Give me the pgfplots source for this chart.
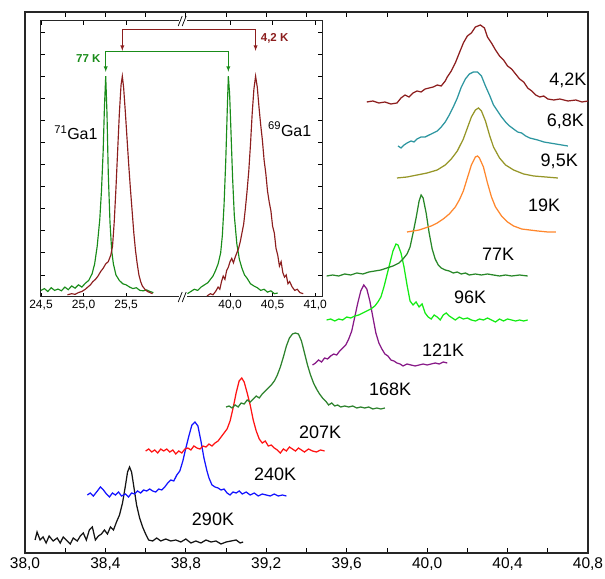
\documentclass[border=0pt]{standalone}
\usepackage{pgfplots}
\pgfplotsset{compat=1.18}
\usepackage{fontspec}
\setmainfont{Liberation Sans}
\definecolor{cA}{RGB}{140,30,30}
\definecolor{cB}{RGB}{45,150,160}
\definecolor{cC}{RGB}{150,150,40}
\definecolor{cD}{RGB}{255,135,45}
\definecolor{cE}{RGB}{40,135,40}
\definecolor{cF}{RGB}{20,235,20}
\definecolor{cG}{RGB}{135,25,135}
\definecolor{cH}{RGB}{45,130,45}
\definecolor{cI}{RGB}{255,20,20}
\definecolor{cJ}{RGB}{20,20,255}
\definecolor{cK}{RGB}{20,20,20}
\definecolor{gin}{RGB}{25,140,25}
\definecolor{rin}{RGB}{140,30,30}
\begin{document}
\begin{tikzpicture}
\begin{axis}[name=main, at={(0,0)}, anchor=south west, scale only axis,
  width=563bp, height=541bp, xmin=38, xmax=40.8, ymin=0, ymax=541,
  xtick={38,38.4,38.8,39.2,39.6,40,40.4,40.8},
  xticklabels={{38,0},{38,4},{38,8},{39,2},{39,6},{40,0},{40,4},{40,8}},
  minor xtick={38.2,38.6,39.0,39.4,39.8,40.2,40.6},
  ytick=\empty, tick align=inside,
  major tick length=5bp, minor tick length=5bp,
  tick style={black, line width=0.8bp},
  axis line style={black!85, line width=1.1bp},
  /pgf/number format/assume math mode=true,
  xticklabel style={font=\fontsize{15.5bp}{18bp}\selectfont, yshift=-1bp},
  every axis plot/.append style={line width=1.25bp, mark=none},
  clip=false]
% 290K
\addplot[cK] coordinates {(38.05,13)(38.06,21)(38.075,13)(38.09,16)(38.105,10)(38.12,17)(38.14,12)(38.16,15)(38.175,10)(38.19,16)(38.21,12)(38.225,9)(38.24,15)(38.26,12)(38.275,17)(38.29,20)(38.305,13)(38.32,23)(38.335,26)(38.35,13)(38.365,17)(38.38,19)(38.395,23)(38.41,19)(38.425,26)(38.44,23)(38.455,31)(38.47,38)(38.485,50)(38.50,68)(38.51,81)(38.52,86)(38.53,81)(38.54,68)(38.555,48)(38.57,35)(38.585,26)(38.60,19)(38.615,13)(38.635,12)(38.655,15)(38.675,12)(38.70,14)(38.725,12)(38.75,13)(38.775,11)(38.80,14)(38.825,10)(38.85,12)(38.875,10)(38.90,13)(38.925,11)(38.95,12)(38.975,9)(39.0,11)(39.025,12)(39.05,13)(39.07,10)(39.085,11)};
% 240K
\addplot[cJ] coordinates {(38.31,58)(38.325,60)(38.34,57)(38.36,62)(38.375,66)(38.39,63)(38.405,59)(38.42,56)(38.435,60)(38.45,58)(38.465,61)(38.48,57)(38.50,59)(38.515,56)(38.53,60)(38.545,59)(38.56,62)(38.575,60)(38.59,63)(38.605,62)(38.62,64)(38.635,62)(38.65,61)(38.665,64)(38.68,63)(38.695,66)(38.71,70)(38.725,73)(38.74,72)(38.755,78)(38.77,82)(38.785,92)(38.80,105)(38.815,117)(38.83,128)(38.845,131)(38.86,127)(38.875,112)(38.89,95)(38.905,82)(38.915,75)(38.93,68)(38.945,66)(38.96,65)(38.975,63)(38.99,64)(39.005,60)(39.02,58)(39.035,61)(39.05,60)(39.065,62)(39.08,59)(39.10,61)(39.12,58)(39.14,60)(39.16,57)(39.18,59)(39.20,58)(39.22,57)(39.24,59)(39.26,57)(39.28,58)(39.30,57)};
% 207K
\addplot[cI] coordinates {(38.60,102)(38.615,104)(38.63,101)(38.645,103)(38.66,100)(38.675,104)(38.69,102)(38.705,104)(38.72,101)(38.735,103)(38.75,99)(38.765,102)(38.78,100)(38.795,104)(38.81,105)(38.825,103)(38.84,107)(38.855,105)(38.87,104)(38.885,107)(38.90,106)(38.915,109)(38.93,107)(38.945,110)(38.96,112)(38.975,116)(38.99,120)(39.005,124)(39.02,132)(39.035,145)(39.05,160)(39.065,172)(39.078,175)(39.09,171)(39.105,160)(39.12,148)(39.135,133)(39.15,122)(39.165,114)(39.18,110)(39.195,112)(39.21,107)(39.225,108)(39.24,105)(39.255,103)(39.27,100)(39.285,104)(39.30,102)(39.315,106)(39.33,104)(39.345,102)(39.36,105)(39.375,103)(39.39,101)(39.41,104)(39.43,102)(39.45,101)(39.47,103)(39.49,102)};
% 168K
\addplot[cH] coordinates {(39.00,146)(39.015,147)(39.03,145)(39.045,148)(39.06,146)(39.075,150)(39.09,149)(39.105,153)(39.12,151)(39.135,154)(39.15,157)(39.165,155)(39.18,159)(39.195,162)(39.21,165)(39.225,168)(39.24,172)(39.255,178)(39.27,186)(39.285,196)(39.30,207)(39.315,215)(39.33,219)(39.345,220)(39.36,219)(39.375,212)(39.39,200)(39.405,188)(39.42,178)(39.435,170)(39.45,164)(39.465,159)(39.48,155)(39.495,152)(39.51,148)(39.525,150)(39.54,147)(39.555,148)(39.57,146)(39.59,147)(39.61,146)(39.63,147)(39.65,145)(39.67,146)(39.69,145)(39.71,146)(39.73,144)(39.75,145)(39.77,144)(39.79,145)};
% 121K
\addplot[cG] coordinates {(39.43,188)(39.445,190)(39.46,193)(39.475,191)(39.49,195)(39.505,194)(39.52,197)(39.535,199)(39.55,198)(39.565,202)(39.58,205)(39.595,208)(39.61,214)(39.625,222)(39.64,236)(39.655,250)(39.67,262)(39.685,268)(39.70,264)(39.715,252)(39.73,236)(39.745,220)(39.76,210)(39.775,204)(39.79,199)(39.805,197)(39.82,193)(39.835,192)(39.85,190)(39.865,189)(39.88,187)(39.90,189)(39.92,188)(39.94,187)(39.96,188)(39.98,189)(40.0,188)(40.02,189)(40.04,190)(40.06,189)(40.08,191)(40.10,190)};
% 96K
\addplot[cF] coordinates {(39.50,233)(39.52,234)(39.54,232)(39.56,234)(39.58,233)(39.60,236)(39.62,235)(39.64,237)(39.66,238)(39.68,240)(39.70,242)(39.72,244)(39.74,247)(39.755,251)(39.77,256)(39.785,266)(39.80,278)(39.815,290)(39.83,302)(39.845,309)(39.855,308)(39.87,300)(39.885,286)(39.90,268)(39.915,252)(39.93,248)(39.945,251)(39.96,246)(39.975,249)(39.99,240)(40.005,236)(40.02,234)(40.035,238)(40.05,236)(40.065,233)(40.08,238)(40.095,240)(40.11,237)(40.125,235)(40.14,233)(40.16,236)(40.18,234)(40.20,235)(40.22,233)(40.24,232)(40.26,234)(40.28,233)(40.30,235)(40.32,233)(40.34,231)(40.36,234)(40.38,232)(40.40,234)(40.42,233)(40.44,232)(40.46,233)(40.48,232)(40.50,233)};
% 77K
\addplot[cE] coordinates {(39.50,277)(39.53,278)(39.56,277)(39.59,279)(39.62,278)(39.65,280)(39.68,279)(39.71,281)(39.74,282)(39.77,283)(39.80,285)(39.83,287)(39.86,290)(39.88,294)(39.90,299)(39.915,306)(39.93,320)(39.945,335)(39.96,352)(39.97,358)(39.98,355)(39.995,340)(40.01,320)(40.025,304)(40.04,294)(40.055,288)(40.07,285)(40.09,283)(40.11,282)(40.13,280)(40.15,281)(40.17,279)(40.19,280)(40.21,278)(40.24,279)(40.27,278)(40.30,279)(40.33,278)(40.36,277)(40.39,278)(40.42,277)(40.46,278)(40.50,277)};
% 19K
\addplot[cD] coordinates {(39.90,321)(39.93,322)(39.96,323)(39.99,325)(40.02,327)(40.05,330)(40.08,334)(40.11,339)(40.14,346)(40.16,353)(40.18,362)(40.20,375)(40.22,388)(40.24,396)(40.25,397)(40.26,395)(40.28,386)(40.30,370)(40.32,356)(40.34,346)(40.37,337)(40.40,331)(40.43,327)(40.47,324)(40.51,323)(40.55,322)(40.60,321)(40.64,321)};
% 9.5K
\addplot[cC] coordinates {(39.85,375)(39.90,376)(39.95,378)(40.00,380)(40.05,383)(40.09,388)(40.12,394)(40.15,402)(40.18,414)(40.20,425)(40.22,436)(40.24,443)(40.255,445)(40.27,442)(40.29,432)(40.31,418)(40.33,406)(40.36,395)(40.39,388)(40.43,383)(40.48,379)(40.53,377)(40.59,376)(40.65,375)};
% 6.8K
\addplot[cB] coordinates {(39.855,407)(39.87,405)(39.885,408)(39.90,410)(39.92,412)(39.935,411)(39.95,414)(39.97,416)(39.99,416)(40.01,418)(40.03,420)(40.05,422)(40.07,426)(40.09,431)(40.11,438)(40.13,446)(40.15,455)(40.17,466)(40.19,474)(40.21,479)(40.23,481)(40.25,481)(40.27,477)(40.29,467)(40.31,458)(40.33,448)(40.35,442)(40.37,436)(40.39,431)(40.41,427)(40.43,424)(40.45,421)(40.47,420)(40.49,417)(40.51,415)(40.53,414)(40.55,413)(40.58,411)(40.61,410)(40.64,409)(40.67,408)(40.70,407)};
% 4.2K
\addplot[cA] coordinates {(39.70,451)(39.73,452)(39.76,450)(39.79,451)(39.82,449)(39.85,450)(39.87,455)(39.89,458)(39.91,456)(39.93,460)(39.95,462)(39.97,461)(39.99,464)(40.01,465)(40.03,466)(40.05,468)(40.07,467)(40.09,472)(40.10,476)(40.12,482)(40.14,490)(40.16,500)(40.18,510)(40.20,517)(40.22,520)(40.24,526)(40.265,528)(40.285,525)(40.30,516)(40.32,510)(40.34,503)(40.36,497)(40.38,493)(40.40,487)(40.42,484)(40.44,479)(40.46,474)(40.48,471)(40.50,465)(40.52,462)(40.54,458)(40.56,456)(40.58,457)(40.60,454)(40.63,453)(40.66,454)(40.70,452)(40.74,453)(40.77,451)(40.80,452)};
\begin{scope}[every node/.style={font=\fontsize{18bp}{21bp}\selectfont, inner sep=0pt}]
\node at (axis cs:38.935,34) {290K};
\node at (axis cs:39.244,79) {240K};
\node at (axis cs:39.468,121) {207K};
\node at (axis cs:39.816,164) {168K};
\node at (axis cs:40.08,203) {121K};
\node at (axis cs:40.214,256) {96K};
\node at (axis cs:40.353,299) {77K};
\node at (axis cs:40.582,348) {19K};
\node at (axis cs:40.657,392) {9,5K};
\node at (axis cs:40.687,432) {6,8K};
\node at (axis cs:40.70,473) {4,2K};
\end{scope}
\end{axis}
\begin{axis}[name=inset, at={(16bp,532bp)}, anchor=north west, scale only axis,
  width=281bp, height=276bp, xmin=0, xmax=3.3, ymin=0, ymax=12.5,
  axis background/.style={fill=white},
  xtick={0,0.5,1,2.22,2.72,3.22},
  xticklabels={{24,5},{25,0},{25,5},{40,0},{40,5},{41,0}},
  ytick={1,2,3,4,5,6,7,8,9,10,11,12}, yticklabel=\empty,
  tick align=inside, major tick length=4bp,
  tick style={black, line width=0.7bp},
  axis line style={black!85, line width=1bp},
  /pgf/number format/assume math mode=true,
  xticklabel style={font=\fontsize{12bp}{14bp}\selectfont},
  every axis plot/.append style={line width=1.15bp, mark=none},
  clip=false]
\addplot[gin] coordinates {(0.00,0.30)(0.04,0.38)(0.08,0.25)(0.12,0.42)(0.16,0.30)(0.20,0.36)(0.24,0.28)(0.28,0.45)(0.32,0.33)(0.36,0.50)(0.40,0.40)(0.44,0.55)(0.48,0.45)(0.52,0.62)(0.56,0.75)(0.60,1.05)(0.63,1.5)(0.66,2.3)(0.69,3.5)(0.71,4.8)(0.73,6.6)(0.745,8.6)(0.76,10.0)(0.775,8.3)(0.79,5.6)(0.81,3.4)(0.83,2.1)(0.85,1.5)(0.88,1.0)(0.92,0.75)(0.96,0.6)(1.00,0.55)(1.04,0.45)(1.08,0.38)(1.12,0.42)(1.16,0.30)(1.20,0.28)(1.24,0.32)(1.28,0.25)(1.32,0.2)};
\addplot[gin] coordinates {(1.72,0.15)(1.76,0.25)(1.80,0.35)(1.84,0.3)(1.88,0.45)(1.92,0.55)(1.96,0.65)(1.99,0.8)(2.02,0.95)(2.05,1.2)(2.08,1.5)(2.11,2.0)(2.13,2.8)(2.15,4.2)(2.17,6.2)(2.19,8.8)(2.20,10.0)(2.215,9.2)(2.23,7.6)(2.25,5.4)(2.27,3.7)(2.30,2.4)(2.33,1.7)(2.36,1.3)(2.39,1.0)(2.42,0.85)(2.46,0.6)(2.50,0.5)(2.54,0.42)(2.58,0.3)(2.62,0.35)(2.66,0.22)(2.70,0.28)(2.74,0.15)(2.78,0.18)};
\addplot[rin] coordinates {(0.31,0.10)(0.36,0.15)(0.40,0.12)(0.44,0.2)(0.48,0.25)(0.52,0.35)(0.55,0.45)(0.58,0.55)(0.61,0.7)(0.64,0.8)(0.67,0.95)(0.70,1.15)(0.73,1.3)(0.76,1.5)(0.79,1.6)(0.82,1.9)(0.84,2.3)(0.86,3.4)(0.88,4.9)(0.90,6.6)(0.92,8.3)(0.94,9.6)(0.955,10.0)(0.97,9.5)(0.99,8.4)(1.01,7.2)(1.03,6.0)(1.05,4.9)(1.07,3.9)(1.09,2.9)(1.11,2.1)(1.13,1.5)(1.15,1.0)(1.17,0.7)(1.19,0.5)(1.22,0.35)(1.25,0.25)(1.28,0.2)(1.31,0.15)};
\addplot[rin] coordinates {(1.95,0.05)(1.99,0.15)(2.02,0.1)(2.05,0.25)(2.08,0.45)(2.10,0.35)(2.12,0.7)(2.14,0.95)(2.16,0.8)(2.18,1.2)(2.20,1.35)(2.22,1.6)(2.24,1.75)(2.26,1.55)(2.28,1.8)(2.30,2.0)(2.32,2.2)(2.34,2.5)(2.36,2.9)(2.38,3.3)(2.40,4.0)(2.42,4.8)(2.44,5.7)(2.46,6.9)(2.48,8.3)(2.50,9.4)(2.52,10.0)(2.54,9.5)(2.56,8.6)(2.58,7.8)(2.60,7.1)(2.62,6.2)(2.64,5.6)(2.66,4.8)(2.68,4.3)(2.70,3.9)(2.72,3.2)(2.74,2.9)(2.76,2.2)(2.78,1.9)(2.80,1.4)(2.82,1.6)(2.84,1.1)(2.86,0.9)(2.88,1.0)(2.90,0.6)(2.92,0.7)(2.95,0.45)(2.98,0.3)(3.01,0.35)(3.04,0.2)(3.08,0.15)};
% brackets
\addplot[rin, line width=0.9bp, {latex}-{latex}] coordinates {(0.955,11.15)(0.955,12.1)(2.52,12.1)(2.52,11.15)};
\addplot[gin, line width=0.9bp, {latex}-{latex}] coordinates {(0.76,10.2)(0.76,11.1)(2.20,11.1)(2.20,10.2)};
\node[rin, font=\bfseries\fontsize{11.5bp}{13bp}\selectfont, anchor=west, inner sep=0pt] at (axis cs:2.58,11.7) {4,2 K};
\node[gin, font=\bfseries\fontsize{11.5bp}{13bp}\selectfont, anchor=east, inner sep=0pt] at (axis cs:0.70,10.8) {77 K};
\node[font=\fontsize{16bp}{18bp}\selectfont, inner sep=0pt] at (axis cs:0.41,7.45) {\textsuperscript{71}Ga1};
\node[font=\fontsize{16bp}{18bp}\selectfont, inner sep=0pt] at (axis cs:2.92,7.6) {\textsuperscript{69}Ga1};
% axis break marks
\fill[white] ([xshift=-4bp,yshift=-2bp]axis cs:1.67,0) rectangle ([xshift=4bp,yshift=2bp]axis cs:1.67,0);
\fill[white] ([xshift=-4bp,yshift=-2bp]axis cs:1.67,12.5) rectangle ([xshift=4bp,yshift=2bp]axis cs:1.67,12.5);
\draw[black, line width=0.7bp] ([xshift=-5bp,yshift=-5bp]axis cs:1.67,0) -- ++(4bp,10bp);
\draw[black, line width=0.7bp] ([xshift=-1bp,yshift=-5bp]axis cs:1.67,0) -- ++(4bp,10bp);
\draw[black, line width=0.7bp] ([xshift=-5bp,yshift=-5bp]axis cs:1.67,12.5) -- ++(4bp,10bp);
\draw[black, line width=0.7bp] ([xshift=-1bp,yshift=-5bp]axis cs:1.67,12.5) -- ++(4bp,10bp);
\end{axis}
\pgfresetboundingbox
\path (-25bp,-26bp) rectangle (580bp,553bp);
\end{tikzpicture}
\end{document}
